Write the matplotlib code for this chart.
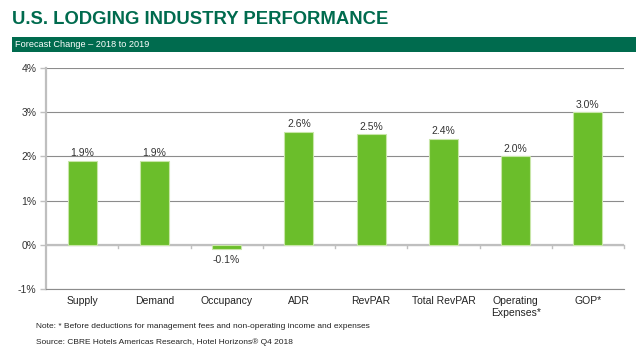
import matplotlib.pyplot as plt
from matplotlib.patches import Rectangle

# data
categories = ["Supply", "Demand", "Occupancy", "ADR", "RevPAR",
              "Total RevPAR", "Operating\nExpenses*", "GOP*"]
values = [1.9, 1.9, -0.1, 2.55, 2.5, 2.4, 2.0, 3.0]
value_labels = ["1.9%", "1.9%", "-0.1%", "2.6%", "2.5%", "2.4%", "2.0%", "3.0%"]
y_ticks = [-1, 0, 1, 2, 3, 4]

plt.rcParams['font.family'] = ['Liberation Sans', 'DejaVu Sans']

green_dark = "#006B4E"
bar_green = "#6BBE2B"
grid_gray = "#8C8C8C"
axis_gray = "#BFBFBF"

fig = plt.figure(figsize=(6.36, 3.53), dpi=100)

# title and header band
fig.text(12 / 636, 1 - 20 / 353, "U.S. LODGING INDUSTRY PERFORMANCE",
         fontsize=13.3, fontweight='bold', color=green_dark, va='center', ha='left')
fig.patches.append(Rectangle((12 / 636, 1 - 52 / 353), 624 / 636, 15 / 353,
                             transform=fig.transFigure, facecolor=green_dark,
                             edgecolor='none'))
fig.text(15 / 636, 1 - 44.5 / 353, "Forecast Change \u2013 2018 to 2019",
         fontsize=6.6, color='white', va='center', ha='left')

ax = fig.add_axes([46 / 636, 1 - 289 / 353, 578 / 636, 221 / 353])
x = list(range(len(categories)))
ax.bar(x, values, width=0.4, color=bar_green, edgecolor="#C8E6A8",
       linewidth=0.8, zorder=3)

for xi, v, lab in zip(x, values, value_labels):
    if v >= 0:
        ax.text(xi, v + 0.06, lab, ha='center', va='bottom', fontsize=7.5, color='#333333')
    else:
        ax.text(xi, v - 0.12, lab, ha='center', va='top', fontsize=7.5, color='#333333')

ax.set_xlim(-0.5, len(categories) - 0.5)
ax.set_ylim(-1, 4)
ax.set_yticks(y_ticks)
ax.set_yticklabels([f"{t}%" for t in y_ticks], fontsize=7.5, color='#333333')
ax.yaxis.grid(True, color=grid_gray, linewidth=0.8, zorder=0)
ax.set_axisbelow(True)

for s in ['top', 'right']:
    ax.spines[s].set_visible(False)
ax.spines['left'].set_color(axis_gray)
ax.spines['left'].set_linewidth(1.6)
ax.spines['bottom'].set_color(grid_gray)
ax.spines['bottom'].set_linewidth(0.8)
ax.tick_params(axis='y', length=4, color=axis_gray, width=1, pad=3)

# zero line with category boundary ticks
ax.axhline(0, color=axis_gray, linewidth=1.6, zorder=2)
for b in range(1, len(categories) + 1):
    ax.plot([b - 0.5, b - 0.5], [0, -0.08], color=axis_gray, linewidth=1, zorder=2,
            clip_on=False)

ax.set_xticks(x)
ax.set_xticklabels(categories, fontsize=7.5, color='#222222', linespacing=1.3, va='top')
ax.tick_params(axis='x', length=0, pad=5)

fig.text(36 / 636, 1 - 327 / 353,
         "Note: * Before deductions for management fees and non-operating income and expenses",
         fontsize=6.0, color='#222222', va='center', ha='left')
fig.text(36 / 636, 1 - 342 / 353,
         "Source: CBRE Hotels Americas Research, Hotel Horizons\u00ae Q4 2018",
         fontsize=6.0, color='#222222', va='center', ha='left')

fig.savefig("out.png", dpi=100)
